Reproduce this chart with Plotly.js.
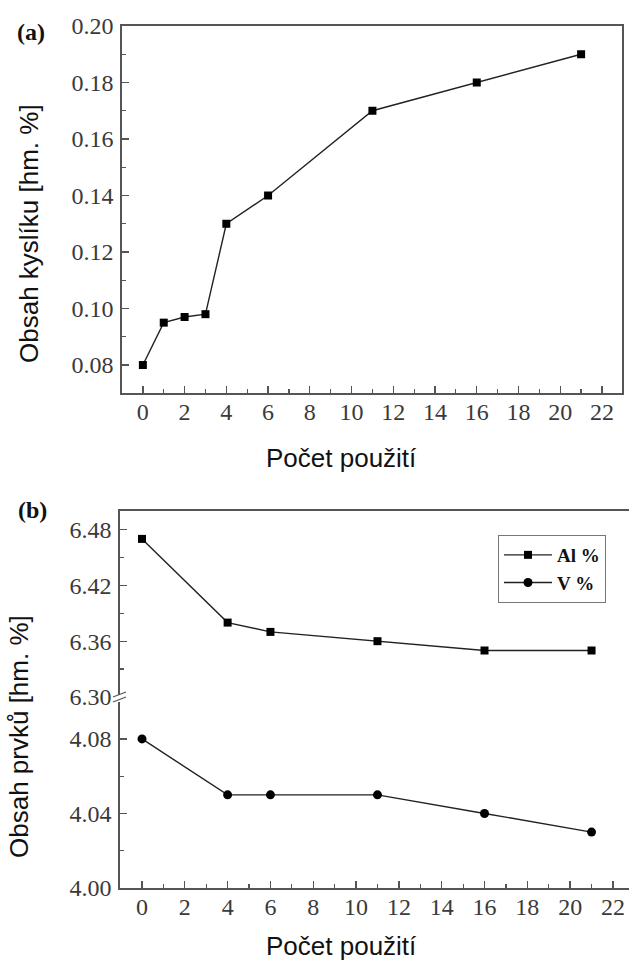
<!DOCTYPE html>
<html>
<head>
<meta charset="utf-8">
<script src="https://cdn.plot.ly/plotly-3.0.1.min.js"></script>
<style>html,body{margin:0;padding:0;background:#fff;}#chart{width:629px;height:961px;}</style>
</head>
<body>
<div id="chart"></div>
<script>
// Panel (a): oxygen content vs number of uses
const usesA = [0, 1, 2, 3, 4, 6, 11, 16, 21];
const oxygen = [0.080, 0.095, 0.097, 0.098, 0.130, 0.140, 0.170, 0.180, 0.190];
// Panel (b): Al and V content vs number of uses
const usesB = [0, 4, 6, 11, 16, 21];
const alPct = [6.47, 6.38, 6.37, 6.36, 6.35, 6.35];
const vPct = [4.08, 4.05, 4.05, 4.05, 4.04, 4.03];
const seriesNames = ['Al %', 'V %'];
const xTitle = 'Počet použití';
const yTitleA = 'Obsah kyslíku [hm. %]';
const yTitleB = 'Obsah prvků [hm. %]';
const xTicks = [0, 2, 4, 6, 8, 10, 12, 14, 16, 18, 20, 22];
const xMinor = [1, 3, 5, 7, 9, 11, 13, 15, 17, 19, 21];
const yTicksA = [0.08, 0.10, 0.12, 0.14, 0.16, 0.18, 0.20];
const yMinorA = [0.09, 0.11, 0.13, 0.15, 0.17, 0.19];
const yTicksAl = [6.30, 6.36, 6.42, 6.48];
const yMinorAl = [6.33, 6.39, 6.45];
const yTicksV = [4.00, 4.04, 4.08];
const yMinorV = [4.02, 4.06];

const W = 629, H = 961;
const px = v => v / W;
const py = v => 1 - v / H;

const lineCol = '#222';
const axCol = '#555';
const SERIF = 'Liberation Serif';
const titleFont = {family: 'Liberation Sans', size: 26, color: '#111'};

const traces = [
  {x: usesA, y: oxygen, xaxis: 'x', yaxis: 'y', mode: 'lines+markers', showlegend: false,
   line: {color: lineCol, width: 1.4}, marker: {symbol: 'square', size: 8, color: '#000'}},
  {x: usesB, y: alPct, xaxis: 'x3', yaxis: 'y3', mode: 'lines+markers', name: seriesNames[0],
   line: {color: lineCol, width: 1.4}, marker: {symbol: 'square', size: 8, color: '#000'}},
  {x: usesB, y: vPct, xaxis: 'x2', yaxis: 'y2', mode: 'lines+markers', name: seriesNames[1],
   line: {color: lineCol, width: 1.4}, marker: {symbol: 'circle', size: 9, color: '#000'}}
];

function minorOf(vals) {
  return {tickvals: vals, ticks: 'inside', ticklen: 4, tickcolor: axCol, tickwidth: 1.2};
}
function ax(extra) {
  return Object.assign({showgrid: false, zeroline: false, showline: true, linecolor: axCol, linewidth: 1.6,
    ticks: 'inside', ticklen: 7, tickwidth: 1.3, tickcolor: axCol,
    tickfont: {family: SERIF, size: 24, color: '#3a3a3a'}, fixedrange: true}, extra);
}

const layout = {
  width: W, height: H,
  margin: {l: 0, r: 0, t: 0, b: 0},
  paper_bgcolor: '#fff', plot_bgcolor: '#fff',
  font: {family: SERIF},
  showlegend: true,
  legend: {x: px(498), y: py(535), xanchor: 'left', yanchor: 'top',
    bordercolor: '#777', borderwidth: 1, bgcolor: '#fff',
    font: {family: SERIF, size: 19, color: '#111', weight: 'bold'},
    itemwidth: 48, tracegroupgap: 0},
  xaxis: ax({domain: [px(122), px(622)], range: [-1.0, 22.96], anchor: 'y',
    tickvals: xTicks, mirror: true, ticklabelstandoff: -3, minor: minorOf(xMinor)}),
  yaxis: ax({domain: [py(393), py(26)], range: [0.0701, 0.20], anchor: 'x',
    tickvals: yTicksA, tickformat: '.2f', mirror: true, ticklabelstandoff: 2, minor: minorOf(yMinorA)}),
  xaxis2: ax({domain: [px(120), 1], range: [-1.028, 22.75], anchor: 'y2',
    tickvals: xTicks, ticklabelstandoff: -3, minor: minorOf(xMinor)}),
  yaxis2: ax({domain: [py(888), py(700)], range: [4.0, 4.1009], anchor: 'x2',
    tickvals: yTicksV, tickformat: '.2f', ticklabelstandoff: 2, minor: minorOf(yMinorV)}),
  xaxis3: ax({domain: [px(120), 1], range: [-1.028, 22.75], anchor: 'y3',
    side: 'top', ticks: '', showticklabels: false}),
  yaxis3: ax({domain: [py(697), py(511)], range: [6.30, 6.50], anchor: 'x3',
    tickvals: yTicksAl, tickformat: '.2f', ticklabelstandoff: 2, minor: minorOf(yMinorAl)}),
  annotations: [
    {text: xTitle, xref: 'paper', yref: 'paper', x: px(341), y: py(458), showarrow: false, font: titleFont, xanchor: 'center', yanchor: 'middle'},
    {text: xTitle, xref: 'paper', yref: 'paper', x: px(341), y: py(946), showarrow: false, font: titleFont, xanchor: 'center', yanchor: 'middle'},
    {text: yTitleA, xref: 'paper', yref: 'paper', x: px(29), y: py(234), showarrow: false, font: titleFont, textangle: -90, xanchor: 'center', yanchor: 'middle'},
    {text: yTitleB, xref: 'paper', yref: 'paper', x: px(19), y: py(737), showarrow: false, font: titleFont, textangle: -90, xanchor: 'center', yanchor: 'middle'},
    {text: '<b>(a)</b>', xref: 'paper', yref: 'paper', x: px(31), y: py(32), showarrow: false, xanchor: 'center', yanchor: 'middle',
     font: {family: SERIF, size: 24, color: '#111'}},
    {text: '<b>(b)</b>', xref: 'paper', yref: 'paper', x: px(32), y: py(510), showarrow: false, xanchor: 'center', yanchor: 'middle',
     font: {family: SERIF, size: 24, color: '#111'}}
  ],
  shapes: [
    {type: 'rect', xref: 'paper', yref: 'paper', x0: px(116), x1: px(124), y0: py(702), y1: py(695), fillcolor: '#fff', line: {width: 0}},
    {type: 'line', xref: 'paper', yref: 'paper', x0: px(113), y0: py(697), x1: px(126), y1: py(692), line: {color: axCol, width: 1.3}},
    {type: 'line', xref: 'paper', yref: 'paper', x0: px(113), y0: py(702), x1: px(126), y1: py(697), line: {color: axCol, width: 1.3}}
  ]
};

Plotly.newPlot('chart', traces, layout, {staticPlot: true, displayModeBar: false});
</script>
</body>
</html>
